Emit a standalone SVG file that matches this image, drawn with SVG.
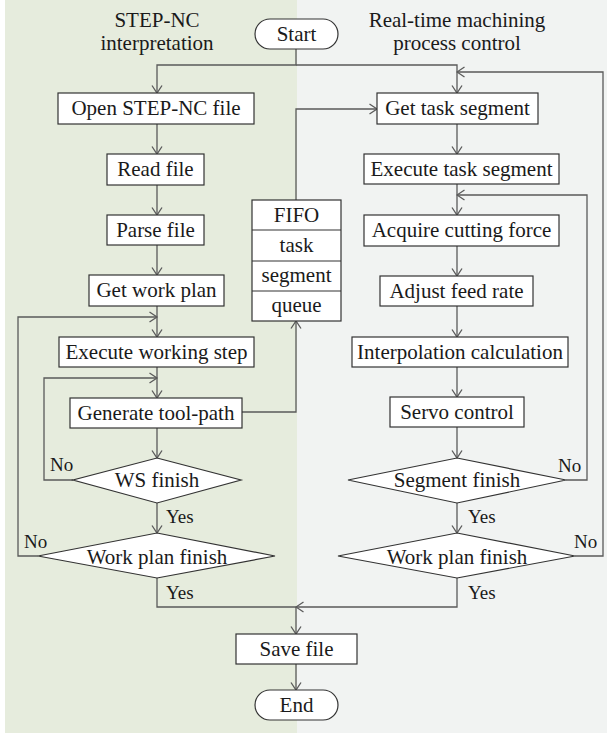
<svg xmlns="http://www.w3.org/2000/svg" width="607" height="733" viewBox="0 0 607 733">
<style>
  .bx{fill:#fff;stroke:#333;stroke-width:1.2}
  .t{font-family:"Liberation Serif","Times New Roman",serif;font-size:21px;fill:#1a1a1a;text-anchor:middle}
  .lb{font-family:"Liberation Serif","Times New Roman",serif;font-size:19px;fill:#1a1a1a}
  .c{fill:none;stroke:#5a5a5a;stroke-width:1.3}
</style>
<defs>
  <marker id="ar" viewBox="0 0 10 12" refX="8.5" refY="6" markerWidth="10" markerHeight="12" markerUnits="userSpaceOnUse" orient="auto">
    <path d="M1,1 L8.5,6 L1,11" fill="none" stroke="#5a5a5a" stroke-width="1.3"/>
  </marker>
</defs>
<rect x="5" y="0" width="292" height="733" fill="#e6ecdd"/>
<rect x="297" y="0" width="310" height="733" fill="#f1f3f2"/>
<g id="headers">
  <text class="t" x="157" y="27">STEP-NC</text>
  <text class="t" x="157" y="50">interpretation</text>
  <text class="t" x="457" y="27">Real-time machining</text>
  <text class="t" x="457" y="50">process control</text>
</g>
<g id="connectors">
  <path class="c" d="M296,49 V65 H157 V93" marker-end="url(#ar)"/>
  <path class="c" d="M296,65 H457 V93" marker-end="url(#ar)"/>
  <path class="c" d="M157,124 V154" marker-end="url(#ar)"/>
  <path class="c" d="M157,185 V215" marker-end="url(#ar)"/>
  <path class="c" d="M157,245 V275" marker-end="url(#ar)"/>
  <path class="c" d="M157,306 V337" marker-end="url(#ar)"/>
  <path class="c" d="M157,367 V398" marker-end="url(#ar)"/>
  <path class="c" d="M157,428 V458" marker-end="url(#ar)"/>
  <path class="c" d="M157,503 V533" marker-end="url(#ar)"/>
  <path class="c" d="M73,480 H44 V378 H157" marker-end="url(#ar)"/>
  <path class="c" d="M38,556 H18 V317 H157" marker-end="url(#ar)"/>
  <path class="c" d="M242,412 H296 V321" marker-end="url(#ar)"/>
  <path class="c" d="M296,200 V109 H377" marker-end="url(#ar)"/>
  <path class="c" d="M457,124 V154" marker-end="url(#ar)"/>
  <path class="c" d="M457,184 V215" marker-end="url(#ar)"/>
  <path class="c" d="M457,246 V276" marker-end="url(#ar)"/>
  <path class="c" d="M457,306 V337" marker-end="url(#ar)"/>
  <path class="c" d="M457,367 V397" marker-end="url(#ar)"/>
  <path class="c" d="M457,427 V458" marker-end="url(#ar)"/>
  <path class="c" d="M457,503 V533" marker-end="url(#ar)"/>
  <path class="c" d="M566,480 H587 V195 H457" marker-end="url(#ar)"/>
  <path class="c" d="M575,556 H603 V72 H457" marker-end="url(#ar)"/>
  <path class="c" d="M157,578 V607 H296"/>
  <path class="c" d="M457,578 V607 H296" marker-end="url(#ar)"/>
  <path class="c" d="M296,607 V634" marker-end="url(#ar)"/>
  <path class="c" d="M296,664 V690" marker-end="url(#ar)"/>
</g>
<g id="start"><rect class="bx" x="255" y="19" width="83" height="30" rx="15"/><text class="t" x="296.5" y="41">Start</text></g>
<g id="open"><rect class="bx" x="58" y="93" width="196" height="31"/><text class="t" x="156" y="115">Open STEP-NC file</text></g>
<g id="read"><rect class="bx" x="107" y="154" width="97" height="31"/><text class="t" x="155.5" y="176">Read file</text></g>
<g id="parse"><rect class="bx" x="107" y="215" width="97" height="30"/><text class="t" x="155.5" y="237">Parse file</text></g>
<g id="getplan"><rect class="bx" x="89" y="275" width="135" height="31"/><text class="t" x="156.5" y="297">Get work plan</text></g>
<g id="execws"><rect class="bx" x="59" y="337" width="195" height="30"/><text class="t" x="156.5" y="359">Execute working step</text></g>
<g id="gentp"><rect class="bx" x="70" y="398" width="172" height="30"/><text class="t" x="156" y="420">Generate tool-path</text></g>
<g id="wsfinish"><polygon class="bx" points="157,458 241,480 157,503 73,480"/><text class="t" x="157" y="487">WS finish</text></g>
<g id="wpfinishL"><polygon class="bx" points="157,533 275,556 157,578 38,556"/><text class="t" x="157" y="564">Work plan finish</text></g>
<g id="fifo">
  <rect class="bx" x="252" y="200" width="89" height="121"/>
  <path d="M252,230 H341 M252,261 H341 M252,291 H341" stroke="#333" stroke-width="1.2"/>
  <text class="t" x="296.5" y="222">FIFO</text>
  <text class="t" x="296.5" y="252">task</text>
  <text class="t" x="296.5" y="282">segment</text>
  <text class="t" x="296.5" y="312">queue</text>
</g>
<g id="gettask"><rect class="bx" x="377" y="93" width="161" height="31"/><text class="t" x="457.5" y="115">Get task segment</text></g>
<g id="exectask"><rect class="bx" x="364" y="154" width="195" height="30"/><text class="t" x="461.5" y="176">Execute task segment</text></g>
<g id="acquire"><rect class="bx" x="364" y="215" width="195" height="31"/><text class="t" x="461.5" y="237">Acquire cutting force</text></g>
<g id="adjust"><rect class="bx" x="380" y="276" width="153" height="30"/><text class="t" x="456.5" y="298">Adjust feed rate</text></g>
<g id="interp"><rect class="bx" x="352" y="337" width="216" height="30"/><text class="t" x="460" y="359">Interpolation calculation</text></g>
<g id="servo"><rect class="bx" x="390" y="397" width="134" height="30"/><text class="t" x="457" y="419">Servo control</text></g>
<g id="segfinish"><polygon class="bx" points="457,458 566,480 457,503 348,480"/><text class="t" x="457" y="487">Segment finish</text></g>
<g id="wpfinishR"><polygon class="bx" points="457,533 575,556 457,578 338,556"/><text class="t" x="457" y="564">Work plan finish</text></g>
<g id="save"><rect class="bx" x="236" y="634" width="121" height="30"/><text class="t" x="296.5" y="656">Save file</text></g>
<g id="end"><rect class="bx" x="255" y="690" width="83" height="30" rx="15"/><text class="t" x="296.5" y="712">End</text></g>
<g id="labels">
  <text class="lb" x="50" y="471">No</text>
  <text class="lb" x="24" y="548">No</text>
  <text class="lb" x="166" y="523">Yes</text>
  <text class="lb" x="166" y="599">Yes</text>
  <text class="lb" x="558" y="472">No</text>
  <text class="lb" x="574" y="548">No</text>
  <text class="lb" x="468" y="523">Yes</text>
  <text class="lb" x="468" y="599">Yes</text>
</g>
</svg>
